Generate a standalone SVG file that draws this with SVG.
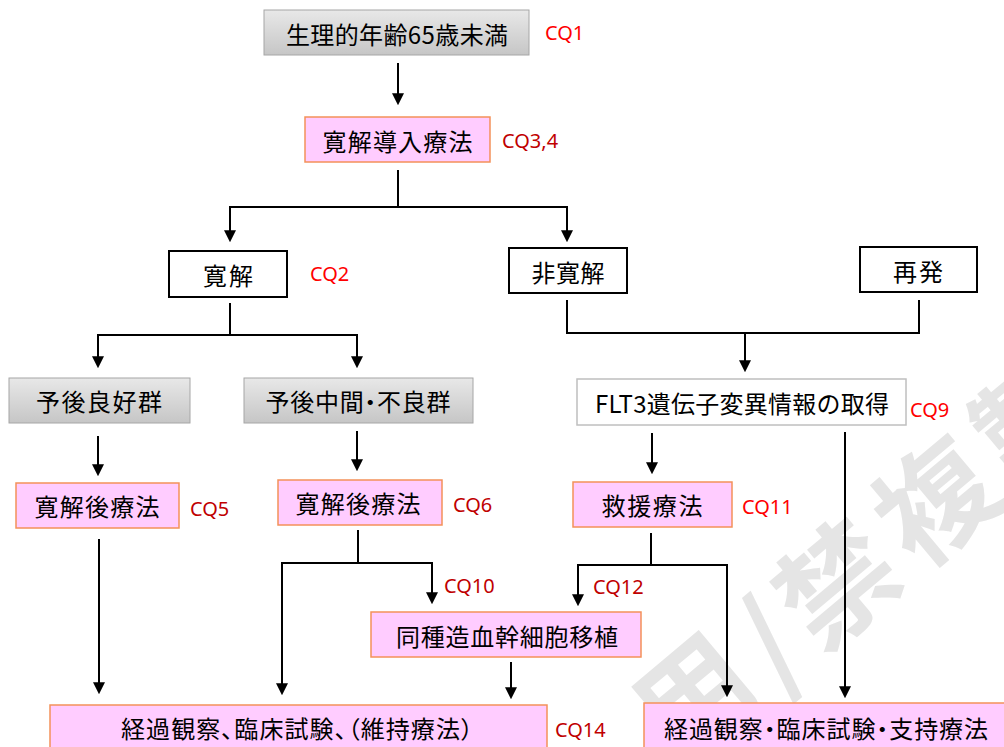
<svg xmlns="http://www.w3.org/2000/svg" width="1004" height="747" viewBox="0 0 1004 747">
<defs>
<linearGradient id="gg" x1="0" y1="0" x2="0" y2="1">
<stop offset="0" stop-color="#e8e8e8"/>
<stop offset="1" stop-color="#c6c6c6"/>
</linearGradient>
<marker id="ah" markerUnits="userSpaceOnUse" markerWidth="12" markerHeight="12" viewBox="0 0 11 11" refX="8" refY="5.5" orient="auto-start-reverse">
<path d="M0,0 L11,5.5 L0,11 z" fill="#000"/>
</marker>
<style>
.jp{font-family:"Noto Sans CJK JP","Noto Sans",sans-serif;font-size:24px;fill:#000;text-anchor:middle;dominant-baseline:central}
.pal{font-feature-settings:"palt"}
.cq{font-family:"Noto Sans","Liberation Sans",sans-serif;font-size:20px;dominant-baseline:central}
.red{fill:#ff0000}
.dred{fill:#c00000}
.pink{fill:#ffccff;stroke:#f4915a;stroke-width:1.5}
.gray{fill:url(#gg);stroke:#a6a6a6;stroke-width:1}
.plain{fill:#fff;stroke:#000;stroke-width:2}
.flt{fill:#fff;stroke:#bfbfbf;stroke-width:1.5}
.conn path{fill:none;stroke:#000;stroke-width:2}
.wm{font-family:"Noto Sans CJK JP",sans-serif;font-size:116px;font-weight:700;fill:#e5e5e5;text-anchor:middle;dominant-baseline:central}
</style>
</defs>
<rect width="1004" height="747" fill="#fff"/>
<g id="watermark" transform="translate(832,578) rotate(-40)">
<text class="wm"><tspan x="-182" y="-6">用</tspan><tspan x="-90" y="0">/</tspan><tspan x="0" y="0">禁</tspan><tspan x="129" y="0">複</tspan><tspan x="258" y="0">製</tspan></text>
</g>
<g id="connectors" class="conn">
<path d="M398,63 V102" marker-end="url(#ah)"/>
<path d="M398,170 V207"/>
<path d="M230,239 V207 H567 V239" marker-start="url(#ah)" marker-end="url(#ah)"/>
<path d="M230,303 V335"/>
<path d="M98,365 V335 H357 V365" marker-start="url(#ah)" marker-end="url(#ah)"/>
<path d="M567,300 V333 H919 V300"/>
<path d="M745,333 V369" marker-end="url(#ah)"/>
<path d="M98,436 V473" marker-end="url(#ah)"/>
<path d="M357,431 V468" marker-end="url(#ah)"/>
<path d="M652,433 V471" marker-end="url(#ah)"/>
<path d="M845,432 V695" marker-end="url(#ah)"/>
<path d="M99,539 V691" marker-end="url(#ah)"/>
<path d="M358,530 V563"/>
<path d="M282,692 V563 H432 V601" marker-start="url(#ah)" marker-end="url(#ah)"/>
<path d="M651,533 V565"/>
<path d="M578,603 V565 H727 V694" marker-start="url(#ah)" marker-end="url(#ah)"/>
<path d="M511,662 V696" marker-end="url(#ah)"/>
</g>
<g id="n1">
<rect class="gray" x="264" y="10" width="265" height="45"/>
<text class="jp" x="397" y="33" textLength="222">生理的年齢65歳未満</text>
<text class="cq red" x="545" y="32">CQ1</text>
</g>
<g id="n2">
<rect class="pink" x="305" y="117" width="185" height="45"/>
<text class="jp" x="397.5" y="140" textLength="150">寛解導入療法</text>
<text class="cq dred" x="502" y="140">CQ3,4</text>
</g>
<g id="n3">
<rect class="plain" x="169" y="251" width="118" height="46"/>
<text class="jp" x="228" y="274" textLength="50">寛解</text>
<text class="cq red" x="310" y="273">CQ2</text>
</g>
<g id="n4">
<rect class="plain" x="509" y="248" width="118" height="45"/>
<text class="jp" x="568" y="271" textLength="73">非寛解</text>
</g>
<g id="n5">
<rect class="plain" x="860" y="247" width="117" height="45"/>
<text class="jp" x="918" y="270" textLength="50">再発</text>
</g>
<g id="n6">
<rect class="gray" x="9" y="378" width="181" height="45"/>
<text class="jp" x="99" y="400" textLength="126">予後良好群</text>
</g>
<g id="n7">
<rect class="gray" x="244" y="378" width="229" height="45"/>
<text class="jp pal" x="358" y="400" textLength="185">予後中間・不良群</text>
</g>
<g id="n8">
<rect class="flt" x="577" y="379" width="329" height="46"/>
<text class="jp" x="742" y="402" textLength="294">FLT3遺伝子変異情報の取得</text>
<text class="cq red" x="910" y="409">CQ9</text>
</g>
<g id="n9">
<rect class="pink" x="16" y="483" width="163" height="45"/>
<text class="jp" x="97" y="505" textLength="125">寛解後療法</text>
<text class="cq dred" x="190" y="508">CQ5</text>
</g>
<g id="n10">
<rect class="pink" x="278" y="480" width="164" height="45"/>
<text class="jp" x="358" y="502" textLength="125">寛解後療法</text>
<text class="cq dred" x="453" y="504">CQ6</text>
</g>
<g id="n11">
<rect class="pink" x="573" y="482" width="159" height="45"/>
<text class="jp" x="652" y="504" textLength="101">救援療法</text>
<text class="cq red" x="742" y="506">CQ11</text>
</g>
<g id="n12">
<rect class="pink" x="371" y="612" width="270" height="45"/>
<text class="jp" x="507" y="635" textLength="222">同種造血幹細胞移植</text>
<text class="cq dred" x="444" y="585">CQ10</text>
<text class="cq dred" x="593" y="586">CQ12</text>
</g>
<g id="n13">
<rect class="pink" x="50" y="705" width="497" height="60"/>
<text class="jp pal" x="297" y="727" textLength="352">経過観察、臨床試験、（維持療法）</text>
<text class="cq dred" x="555" y="729">CQ14</text>
</g>
<g id="n14">
<rect class="pink" x="644" y="703" width="370" height="60"/>
<text class="jp pal" x="826" y="727" textLength="324">経過観察・臨床試験・支持療法</text>
</g>
</svg>
